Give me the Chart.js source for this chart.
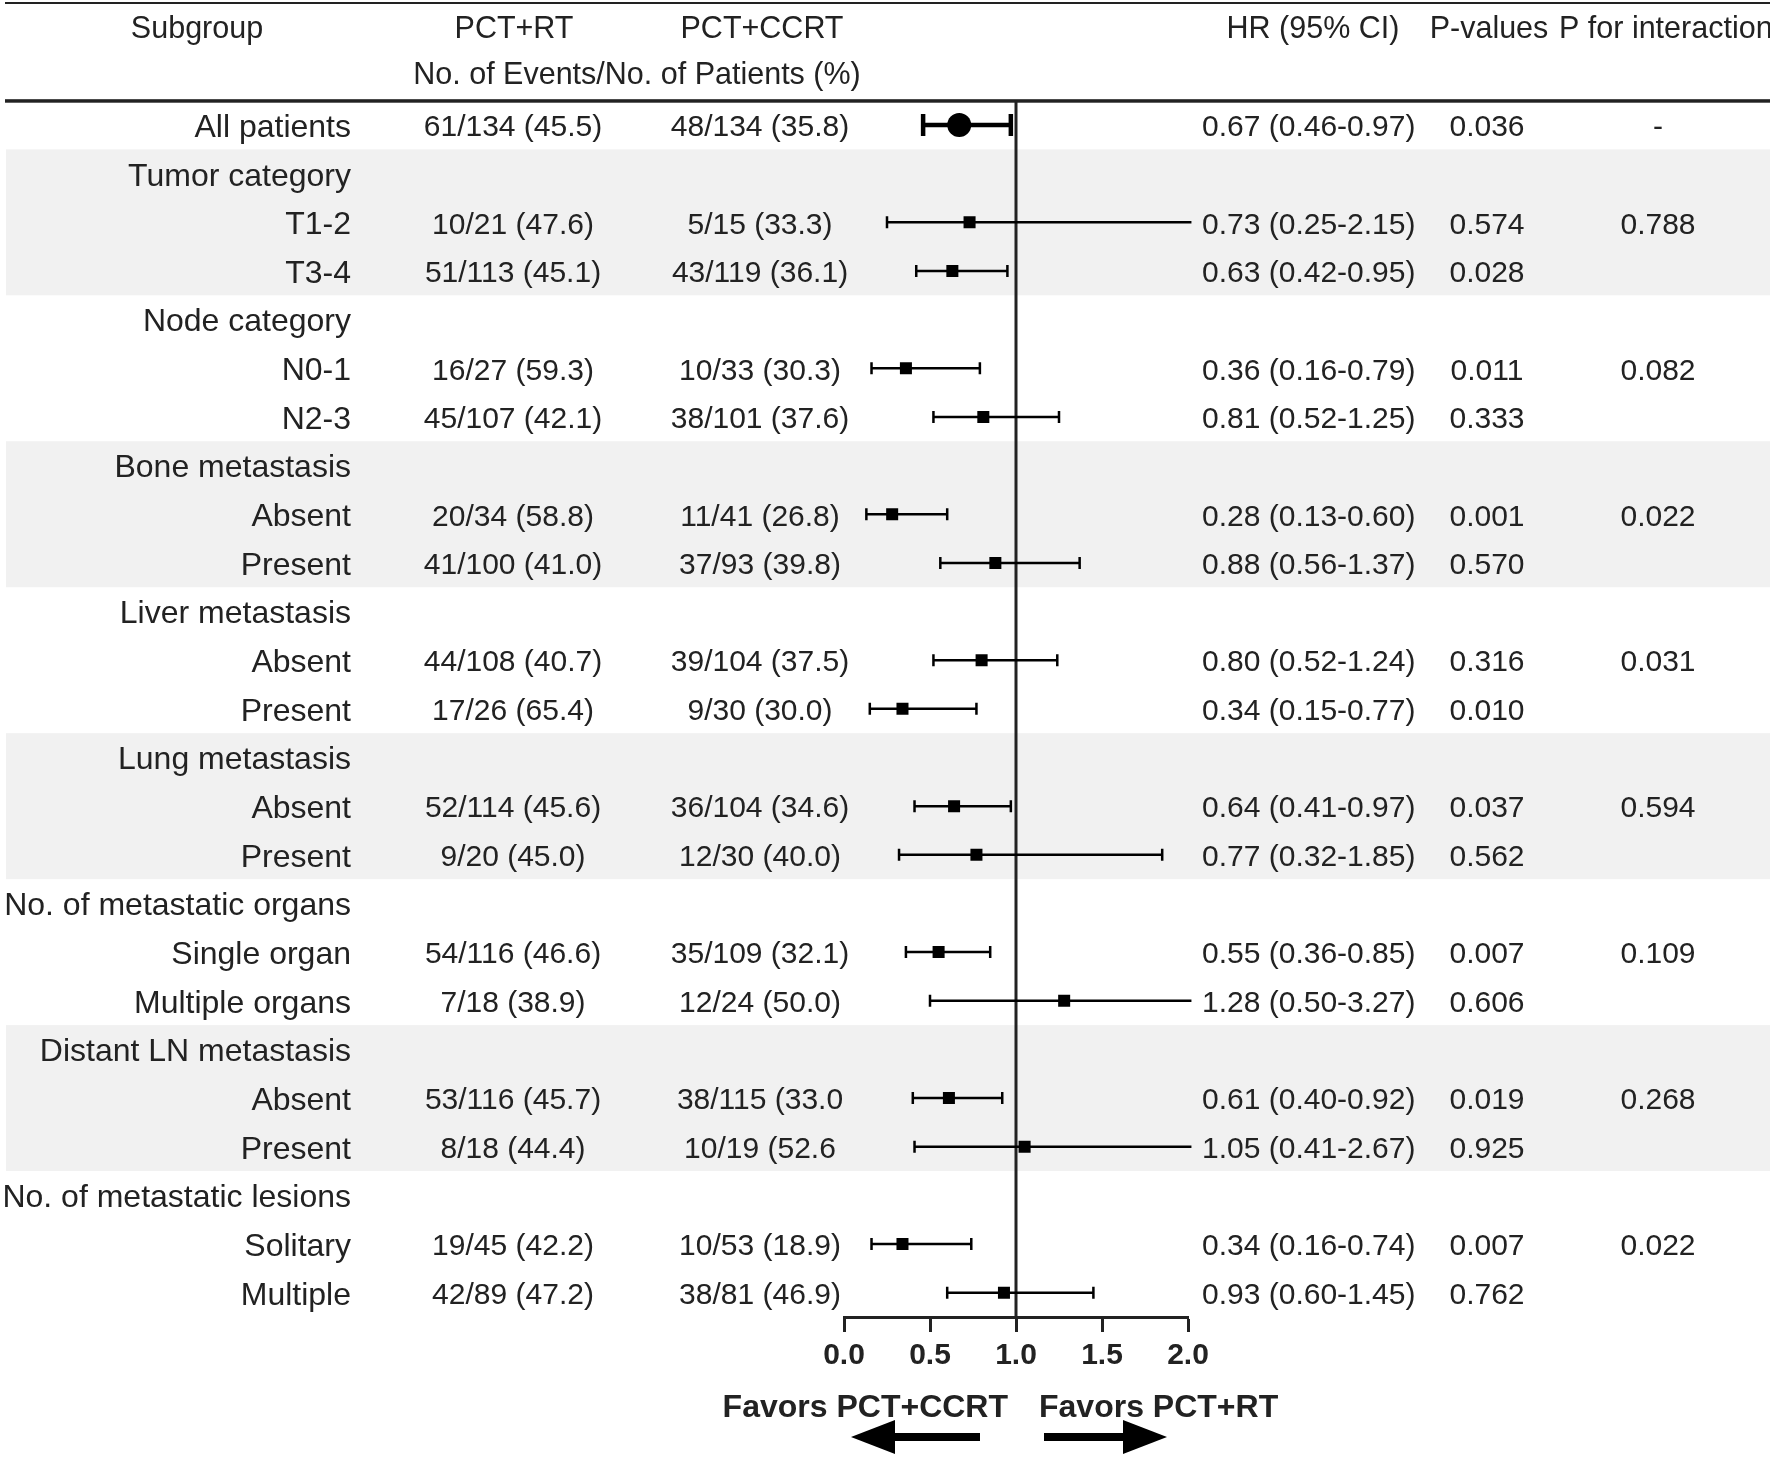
<!DOCTYPE html>
<html>
<head>
<meta charset="utf-8">
<script src="https://cdn.jsdelivr.net/npm/chart.js@4.4.1/dist/chart.umd.min.js"></script>
<style>
  html, body { margin: 0; background: #fff; }
</style>
</head>
<body>
<canvas id="forest" width="1770" height="1459"></canvas>
<script>
// rows, top to bottom; rows without an HR are group headers
const subgroups = ["All patients", "Tumor category", "T1-2", "T3-4", "Node category", "N0-1", "N2-3",
  "Bone metastasis", "Absent", "Present", "Liver metastasis", "Absent", "Present",
  "Lung metastasis", "Absent", "Present", "No. of metastatic organs", "Single organ", "Multiple organs",
  "Distant LN metastasis", "Absent", "Present", "No. of metastatic lesions", "Solitary", "Multiple"];
const rtEvents = ["61/134 (45.5)", "", "10/21 (47.6)", "51/113 (45.1)", "", "16/27 (59.3)", "45/107 (42.1)",
  "", "20/34 (58.8)", "41/100 (41.0)", "", "44/108 (40.7)", "17/26 (65.4)",
  "", "52/114 (45.6)", "9/20 (45.0)", "", "54/116 (46.6)", "7/18 (38.9)",
  "", "53/116 (45.7)", "8/18 (44.4)", "", "19/45 (42.2)", "42/89 (47.2)"];
const ccrtEvents = ["48/134 (35.8)", "", "5/15 (33.3)", "43/119 (36.1)", "", "10/33 (30.3)", "38/101 (37.6)",
  "", "11/41 (26.8)", "37/93 (39.8)", "", "39/104 (37.5)", "9/30 (30.0)",
  "", "36/104 (34.6)", "12/30 (40.0)", "", "35/109 (32.1)", "12/24 (50.0)",
  "", "38/115 (33.0", "10/19 (52.6", "", "10/53 (18.9)", "38/81 (46.9)"];
const hr = [0.67, null, 0.73, 0.63, null, 0.36, 0.81, null, 0.28, 0.88, null, 0.80, 0.34,
  null, 0.64, 0.77, null, 0.55, 1.28, null, 0.61, 1.05, null, 0.34, 0.93];
const ciLow = [0.46, null, 0.25, 0.42, null, 0.16, 0.52, null, 0.13, 0.56, null, 0.52, 0.15,
  null, 0.41, 0.32, null, 0.36, 0.50, null, 0.40, 0.41, null, 0.16, 0.60];
const ciHigh = [0.97, null, 2.15, 0.95, null, 0.79, 1.25, null, 0.60, 1.37, null, 1.24, 0.77,
  null, 0.97, 1.85, null, 0.85, 3.27, null, 0.92, 2.67, null, 0.74, 1.45];
const pValues = ["0.036", "", "0.574", "0.028", "", "0.011", "0.333", "", "0.001", "0.570", "", "0.316", "0.010",
  "", "0.037", "0.562", "", "0.007", "0.606", "", "0.019", "0.925", "", "0.007", "0.762"];
const pInteraction = ["-", "", "0.788", "", "", "0.082", "", "", "0.022", "", "", "0.031", "",
  "", "0.594", "", "", "0.109", "", "", "0.268", "", "", "0.022", ""];
const shadedGroups = ["Tumor category", "Bone metastasis", "Lung metastasis", "Distant LN metastasis"];
const xTicks = [0, 0.5, 1, 1.5, 2];

const FONT = "'Liberation Sans', Arial, Helvetica, sans-serif";
const INK = "#222";
const BAND = "#f1f1f1";
const CLIP_HI = 2.02; // CIs running past the axis are cut here, no cap

const fmt = (v) => v.toFixed(2);

function text(ctx, s, x, y, align, size = 30, weight = "normal") {
  ctx.font = `${weight} ${size}px ${FONT}`;
  ctx.textAlign = align;
  ctx.textBaseline = "middle";
  ctx.fillText(s, x, y);
}

function arrow(ctx, tail, tip, y, shaft, head, half) {
  const dir = Math.sign(tip - tail);
  const base = tip - dir * head;
  ctx.fillRect(Math.min(tail, base), y - shaft / 2, Math.abs(base - tail), shaft);
  ctx.beginPath();
  ctx.moveTo(tip, y);
  ctx.lineTo(base, y - half);
  ctx.lineTo(base, y + half);
  ctx.closePath();
  ctx.fill();
}

const forestPlugin = {
  id: "forest",
  beforeDraw(chart) {
    const { ctx, width, scales: { y } } = chart;
    ctx.save();
    ctx.fillStyle = "#fff";
    ctx.fillRect(0, 0, width, chart.height);
    ctx.fillStyle = BAND;
    for (const name of shadedGroups) {
      const start = subgroups.indexOf(name);
      let end = start + 1;
      while (end < subgroups.length && hr[end] != null) end++;
      const top = y.getPixelForValue(start - 0.5);
      const bot = y.getPixelForValue(end - 0.5);
      ctx.fillRect(6, top, width - 6, bot - top);
    }
    // header rules
    ctx.fillStyle = INK;
    ctx.fillRect(5, 2, width - 5, 2);
    ctx.fillRect(5, chart.chartArea.top - 1.5, width - 5, 3.5);
    // header text
    text(ctx, "Subgroup", 197, 29.5, "center", 30.5);
    text(ctx, "PCT+RT", 514, 29.5, "center", 30.5);
    text(ctx, "PCT+CCRT", 762, 29.5, "center", 30.5);
    text(ctx, "HR (95% CI)", 1313, 29.5, "center", 30.5);
    text(ctx, "P-values", 1489, 29.5, "center", 30.5);
    text(ctx, "P for interaction", 1559, 29.5, "left", 30.5);
    text(ctx, "No. of Events/No. of Patients (%)", 637, 75.5, "center", 30.5);
    ctx.restore();
  },
  beforeDatasetsDraw(chart) {
    const { ctx, chartArea, scales: { x, y } } = chart;
    ctx.save();
    ctx.strokeStyle = INK;
    ctx.lineWidth = 3;
    const x1 = x.getPixelForValue(1);
    ctx.beginPath();
    ctx.moveTo(x1, chartArea.top);
    ctx.lineTo(x1, chartArea.bottom);
    ctx.stroke();
    ctx.strokeStyle = "#000";
    hr.forEach((v, i) => {
      if (v == null) return;
      const overall = i === 0;
      const py = y.getPixelForValue(i);
      const lo = x.getPixelForValue(ciLow[i]);
      const hi = x.getPixelForValue(Math.min(ciHigh[i], CLIP_HI));
      const cap = overall ? 11 : 6;
      ctx.lineWidth = overall ? 4.5 : 2.5;
      ctx.beginPath();
      ctx.moveTo(lo, py); ctx.lineTo(hi, py);
      ctx.moveTo(lo, py - cap); ctx.lineTo(lo, py + cap);
      if (ciHigh[i] <= CLIP_HI) { ctx.moveTo(hi, py - cap); ctx.lineTo(hi, py + cap); }
      ctx.stroke();
    });
    ctx.restore();
  },
  afterDraw(chart) {
    const { ctx, scales: { x, y } } = chart;
    ctx.save();
    ctx.fillStyle = INK;
    subgroups.forEach((name, i) => {
      const py = y.getPixelForValue(i) + 3;
      text(ctx, name, 351, py, "right", 32);
      if (hr[i] == null) return;
      text(ctx, rtEvents[i], 513, py, "center");
      text(ctx, ccrtEvents[i], 760, py, "center");
      text(ctx, `${fmt(hr[i])} (${fmt(ciLow[i])}-${fmt(ciHigh[i])})`, 1202, py, "left");
      text(ctx, pValues[i], 1487, py, "center");
      if (pInteraction[i]) text(ctx, pInteraction[i], 1658, py, "center");
    });
    const x1 = x.getPixelForValue(1);
    text(ctx, "Favors PCT+CCRT", x1 - 8, 1408, "right", 32, "bold");
    text(ctx, "Favors PCT+RT", x1 + 23, 1408, "left", 32, "bold");
    ctx.fillStyle = "#000";
    arrow(ctx, x1 - 36, x1 - 165, 1437, 8, 44, 17);
    arrow(ctx, x1 + 28, x1 + 151, 1437, 8, 44, 17);
    ctx.restore();
  },
};

const rowPoints = (keep) => hr.map((v, i) => (v != null && keep(i) ? { x: v, y: i } : null)).filter(Boolean);

new Chart(document.getElementById("forest"), {
  type: "scatter",
  data: {
    datasets: [
      { data: rowPoints((i) => i === 0), pointStyle: "circle", pointRadius: 12,
        backgroundColor: "#000", borderWidth: 0 },
      { data: rowPoints((i) => i > 0), pointStyle: "rect", pointRadius: 8.5,
        backgroundColor: "#000", borderWidth: 0 },
    ],
  },
  options: {
    responsive: false,
    animation: false,
    events: [],
    layout: { padding: { left: 844, right: 582, top: 100.7, bottom: 82 } },
    plugins: { legend: { display: false }, tooltip: { enabled: false } },
    scales: {
      x: {
        type: "linear", min: 0, max: 2,
        afterFit: (s) => { s.height = 60; },
        afterBuildTicks: (s) => { s.ticks = xTicks.map((value) => ({ value })); },
        ticks: { callback: (v) => v.toFixed(1), color: INK, padding: 6, maxRotation: 0, autoSkip: false,
          font: { family: FONT, size: 30, weight: "bold" } },
        grid: { drawOnChartArea: false, drawTicks: true, tickLength: 15, tickWidth: 3, tickColor: INK },
        border: { display: true, color: INK, width: 3 },
      },
      y: { type: "linear", min: -0.5, max: subgroups.length - 0.5, reverse: true, display: false },
    },
  },
  plugins: [forestPlugin],
});
</script>
</body>
</html>
